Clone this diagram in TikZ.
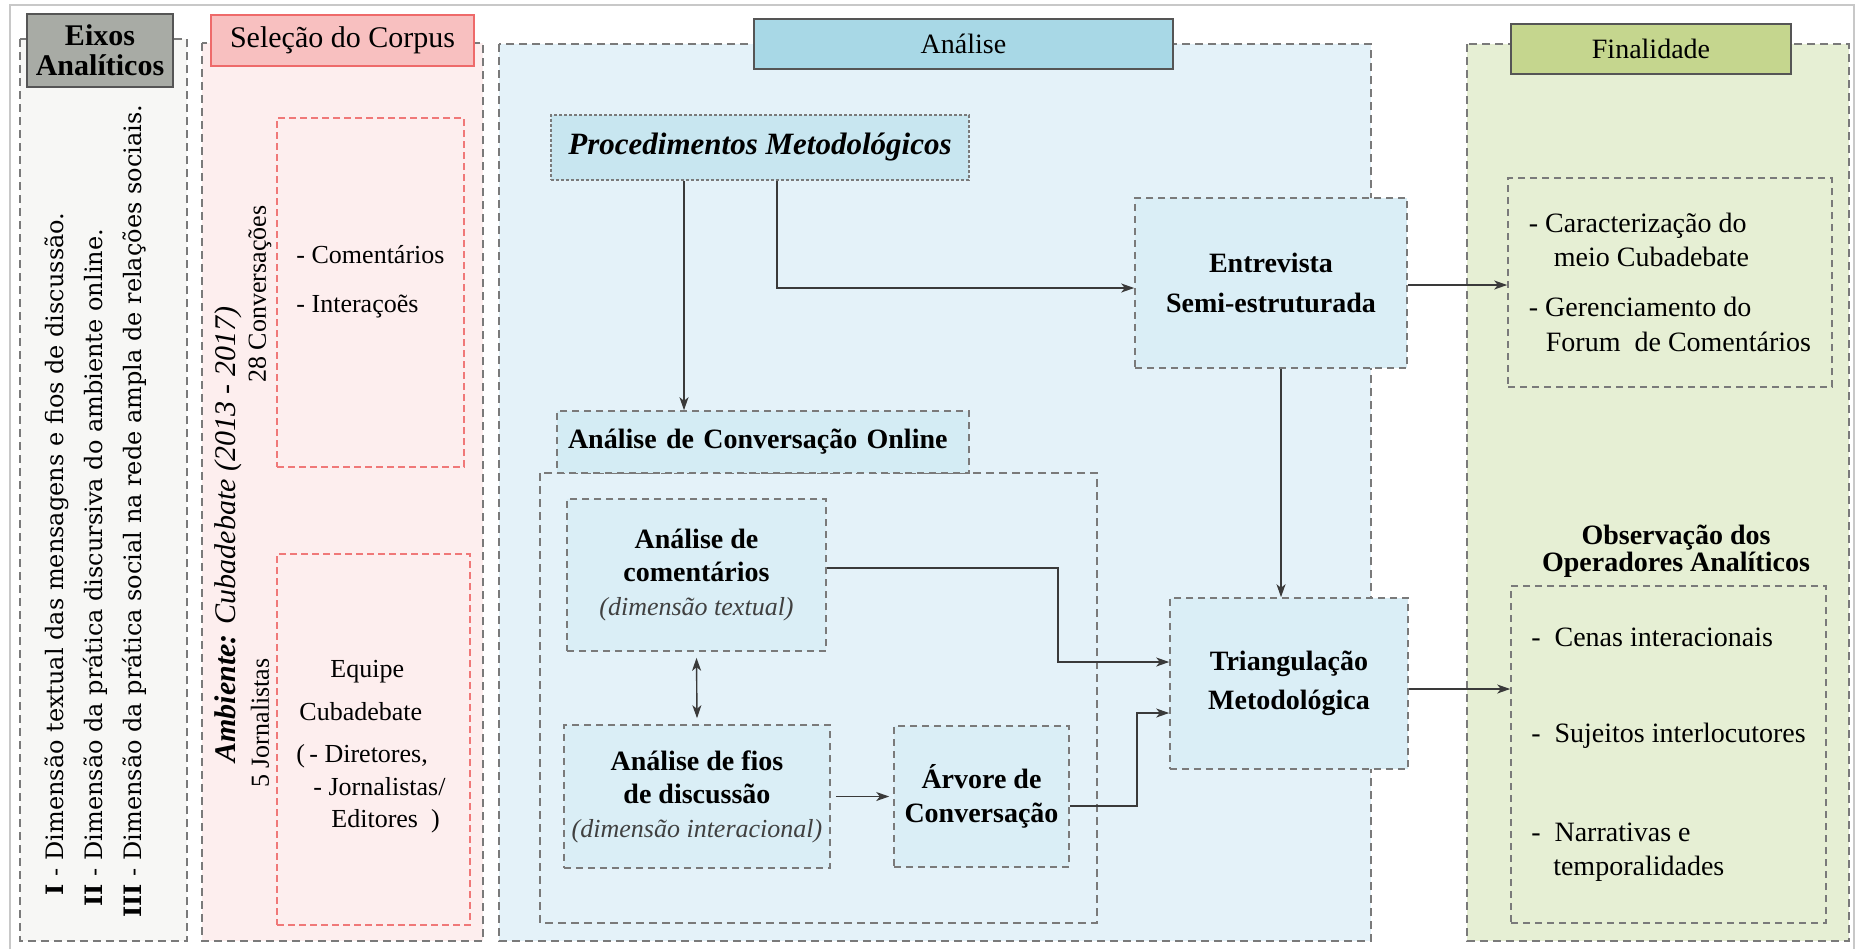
\documentclass[tikz,border=0pt]{standalone}
\usepackage{fontspec}
\setmainfont{Liberation Serif}
\newfontfamily\slabfont{DejaVu Serif}
\usepackage{xcolor}
\usepackage{tikz}
\usetikzlibrary{arrows.meta,positioning,calc}
\newcommand{\fsz}[2]{\fontsize{#1pt}{#2pt}\selectfont}
\definecolor{framegray}{HTML}{C8C8C8}
\definecolor{dashgray}{HTML}{7A7A7A}
\definecolor{headline}{HTML}{555555}
\definecolor{eixosbg}{HTML}{F7F7F5}
\definecolor{eixoshead}{HTML}{A8ABA5}
\definecolor{selbg}{HTML}{FDEEEE}
\definecolor{selhead}{HTML}{F8C0C0}
\definecolor{selline}{HTML}{EE6A6A}
\definecolor{pinkline}{HTML}{F07878}
\definecolor{anabg}{HTML}{E4F2F9}
\definecolor{anahead}{HTML}{A8D8E6}
\definecolor{boxblue}{HTML}{DAEEF6}
\definecolor{procblue}{HTML}{C8E6F0}
\definecolor{acoblue}{HTML}{D4ECF4}
\definecolor{finbg}{HTML}{E6EFD4}
\definecolor{finhead}{HTML}{C5D68E}
\definecolor{arrowgray}{HTML}{3A3A3A}
\definecolor{subgray}{HTML}{404040}

\begin{document}
\begin{tikzpicture}[x=0.5pt,y=-0.5pt,>={Stealth[length=6.5pt,width=4.5pt,inset=1.8pt]},
	panel/.style={draw=dashgray,line width=0.9pt,dash pattern=on 4pt off 2.5pt},
	header/.style={draw=headline,line width=0.8pt,inner sep=0pt},
	box/.style={draw=dashgray,line width=0.8pt,dash pattern=on 3.5pt off 2.5pt,fill=boxblue,inner sep=0pt,align=center,font=\fsz{14}{16.8}\bfseries},
	fbox/.style={draw=dashgray,line width=0.8pt,dash pattern=on 3.5pt off 2.5pt,inner sep=0pt},
	pinkbox/.style={draw=pinkline,line width=0.7pt,dash pattern=on 3.5pt off 2pt,inner sep=0pt},
	vtext/.style={rotate=90,anchor=west,inner sep=0pt},
	link/.style={->,draw=arrowgray,line width=0.7pt}]
	\useasboundingbox (0,0) rectangle (1858,949);
	\draw[framegray,line width=0.8pt] (10,949) -- (10,5) -- (1854,5) -- (1854,949);

	% colunas
	\draw[panel,fill=eixosbg] (20,39) rectangle (187,941);
	\draw[panel,fill=selbg] (202,43) rectangle (483,941);
	\draw[panel,fill=anabg] (499,44) rectangle (1371,941);
	\draw[panel,fill=finbg] (1467,44) rectangle (1849,941);

	\node[header,fill=eixoshead,minimum width=73pt,minimum height=36.5pt,align=center,font=\fsz{15}{15}\bfseries] (eixos) at (100,50.5) {Eixos\\Analíticos};
	\node[header,draw=selline,fill=selhead,minimum width=131.5pt,minimum height=25.5pt,font=\fsz{15}{18}] (selecao) at (342.5,40.5) {Seleção do Corpus};
	\node[header,fill=anahead,minimum width=209.5pt,minimum height=25pt,font=\fsz{14}{17}] (analise) at (963.5,44) {Análise};
	\node[header,fill=finhead,minimum width=140pt,minimum height=25pt,font=\fsz{14}{17}] (finalidade) at (1651,49) {Finalidade};

	% eixos
	\node[vtext,font=\slabfont\fsz{12}{14.4}] (eixostxt) at (95,918) {\renewcommand{\arraystretch}{1.354}\begin{tabular}{@{}r@{ - }l@{}}
		\textbf{I} & Dimensão textual das mensagens e fios de discussão.\\
		\textbf{II} & Dimensão da prática discursiva do ambiente online.\\
		\textbf{III} & Dimensão da prática social na rede ampla de relações sociais.
	\end{tabular}};

	% corpus
	\node[vtext,font=\fsz{15}{18}] (ambiente) at (228,763) {\textbf{\textit{Ambiente:}} \textit{Cubadebate (2013 - 2017)}};
	\node[vtext,font=\fsz{13}{15}] (conversas) at (260,383) {28 Conversações};
	\node[vtext,font=\fsz{13}{15}] (jornalistas) at (260,788) {5 Jornalistas};
	\node[pinkbox,minimum width=93.5pt,minimum height=174.5pt] (corpusconv) at (370.5,292.5) {};
	\node[inner sep=0pt,align=left,font=\fsz{13}{15.6}] (itens) at (370.5,282) {- Comentários\\[9pt]- Interaçoẽs};
	\node[pinkbox,minimum width=96.5pt,minimum height=185.5pt] (corpusjorn) at (373.5,739.5) {};
	\node[inner sep=0pt,align=left,font=\fsz{13}{15.6}] (equipe) at (371,747) {\hspace*{17pt}Equipe\\[5.5pt]\hspace*{1.5pt}Cubadebate\\[5.5pt](\,- Diretores,\\[0.8pt]\hspace*{8.5pt}- Jornalistas/\\[0.8pt]\hspace*{17.5pt}Editores\ \ )};

	% analise
	\node[box,fill=procblue,line width=0.6pt,dash pattern=on 1.5pt off 1pt,minimum width=209pt,minimum height=32.5pt,font=\fsz{15.5}{18}\bfseries\itshape] (proc) at (760,147.5) {Procedimentos Metodológicos};
	\draw[panel,line width=0.8pt] (540,473) rectangle (1097,923);
	\node[box,fill=acoblue,minimum width=206pt,minimum height=31pt,text width=195pt,align=left,inner xsep=5.5pt] (aco) at (763,442) {Análise de Conversação Online};
	\node[box,minimum width=129.5pt,minimum height=76pt] (coment) at (696.5,575) {Análise de\\comentários\\{\fsz{13}{16}\mdseries\itshape\color{subgray}(dimensão textual)}};
	\node[box,minimum width=133pt,minimum height=71.5pt] (fios) at (697,796.5) {Análise de fios\\de discussão\\{\fsz{13}{16}\mdseries\itshape\color{subgray}(dimensão interacional)}};
	\node[box,minimum width=87.5pt,minimum height=70.5pt] (arvore) at (981.5,796.5) {Árvore de\\Conversação};
	\node[box,minimum width=136pt,minimum height=85pt] (entrev) at (1271,283) {Entrevista\\[3pt]Semi-estruturada};
	\node[box,minimum width=119pt,minimum height=85.5pt] (triang) at (1289,683.5) {Triangulação\\[3pt]Metodológica};

	% finalidade
	\node[fbox,minimum width=162pt,minimum height=104.5pt,align=left,font=\fsz{14}{16.8}] (meio) at (1670,282.5) {- Caracterização do\\\hspace*{12.5pt}meio Cubadebate\\[8pt]- Gerenciamento do\\[0.7pt]\hspace*{8.5pt}Forum\ \ de Comentários};
	\node[inner sep=0pt,align=center,font=\fsz{14}{13.5}\bfseries] (obs) at (1676,551) {Observação dos\\Operadores Analíticos};
	\node[fbox,minimum width=157.5pt,minimum height=168.5pt,align=left,font=\fsz{14}{16.8}] (operadores) at (1668.5,754.5) {-\ \ Cenas interacionais\\[31pt]-\ \ Sujeitos interlocutores\\[33pt]-\ \ Narrativas e\\\hspace*{11pt}temporalidades};

	\draw[link] ([xshift=-38pt]proc.south) -- ([xshift=-38pt]proc.south |- aco.north);
	\draw[link] ([xshift=8.5pt]proc.south) |- ([yshift=-2.5pt]entrev.west);
	\draw[link] ([yshift=-1pt]entrev.east) -- ([yshift=-1pt]entrev.east -| meio.west);
	\draw[link] ([xshift=5pt]entrev.south) -- ([xshift=5pt]entrev.south |- triang.north);
	\draw[link] ([yshift=3.5pt]coment.east) -- ++(115.5pt,0) |- ([yshift=10.75pt]triang.west);
	\draw[link,<->] ([yshift=-3pt]coment.south) -- ([yshift=3pt]fios.north);
	\draw[link] ([xshift=2.5pt]fios.east) -- ([xshift=-2pt]arvore.west);
	\draw[link] ([yshift=-4.75pt]arvore.east) -- ++(33.5pt,0) |- ([yshift=-14.75pt]triang.west);
	\draw[link] ([yshift=-2.75pt]triang.east) -- ([yshift=-2.75pt]triang.east -| operadores.west);
\end{tikzpicture}
\end{document}
